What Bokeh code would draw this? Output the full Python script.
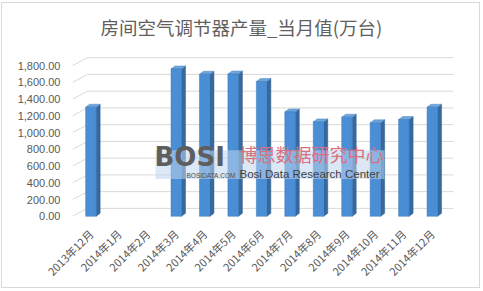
import math
from bokeh.plotting import figure
from bokeh.models import Range1d, FixedTicker, Label, NumeralTickFormatter
from bokeh.embed import file_html
from bokeh.resources import INLINE

# ---- data ----
categories = ["2013年12月", "2014年1月", "2014年2月", "2014年3月", "2014年4月",
              "2014年5月", "2014年6月", "2014年7月", "2014年8月", "2014年9月",
              "2014年10月", "2014年11月", "2014年12月"]
values = [1303, None, None, 1760, 1697, 1700, 1610, 1247, 1128, 1184, 1117, 1156, 1303]
y_ticks = [0, 200, 400, 600, 800, 1000, 1200, 1400, 1600, 1800]
title_text = "房间空气调节器产量_当月值(万台)"

# ---- geometry (pixels, in page coordinates) ----
OX, OY = 2, 3          # canvas origin inside the bordered box
CW, CH = 479, 286      # canvas size
FL, FR, FT, FB = 72, 455, 45, 225
slot_px = 28.45
first_px = 90.4
val_per_px = 1800 / 152.4
y0_px = 215.7

x_start = -(first_px - FL) / slot_px
x_end = x_start + (FR - FL) / slot_px
y_start = -(FB - y0_px) * val_per_px
y_end = (y0_px - FT) * val_per_px

def px2x(px):
    return x_start + (px - FL) / slot_px

def py2y(py):
    return (y0_px - py) * val_per_px

p = figure(width=CW, height=CH, output_backend="svg", toolbar_location=None,
           x_range=Range1d(x_start, x_end), y_range=Range1d(y_start, y_end),
           min_border_left=FL - OX, min_border_right=OX + CW - FR,
           min_border_top=FT - OY, min_border_bottom=OY + CH - FB)
p.styles = {"border": "1px solid #D9D9D9", "margin": "2px 0 0 1px"}
p.outline_line_color = None
p.background_fill_color = "white"
p.border_fill_color = "white"
p.xgrid.visible = False
p.ygrid.visible = False

# title
p.title.text = title_text
p.title.text_font = "Noto Sans CJK SC"
p.title.text_font_size = "18.5px"
p.title.text_font_style = "normal"
p.title.text_color = "#5F5F5F"
p.title.align = "left"
p.title.offset = 100 - FL
p.title.standoff = 16

# y axis
ya = p.yaxis[0]
ya.ticker = FixedTicker(ticks=y_ticks)
ya.formatter = NumeralTickFormatter(format="0,0.00")
ya.axis_line_color = None
ya.major_tick_line_color = None
ya.minor_tick_line_color = None
ya.major_label_text_font = "Liberation Sans"
ya.major_label_text_font_size = "11px"
ya.major_label_text_color = "#595959"
ya.major_label_standoff = 6

# x axis
xa = p.xaxis[0]
xa.ticker = FixedTicker(ticks=list(range(len(categories))))
xa.major_label_overrides = {i: c for i, c in enumerate(categories)}
xa.major_label_orientation = math.pi / 4
xa.axis_line_color = None
xa.major_tick_line_color = None
xa.minor_tick_line_color = None
xa.major_label_text_font = "Noto Sans CJK SC"
xa.major_label_text_font_size = "11px"
xa.major_label_text_color = "#595959"
xa.major_label_standoff = 0

# back-wall gridlines with perspective stub at left
gdx = 15 / slot_px
gdy = 8 * val_per_px
xr_end = px2x(453)
gx, gy = [], []
for v in y_ticks:
    gx.append([x_start, x_start + gdx, xr_end])
    gy.append([v, v + gdy, v + gdy])
p.multi_line(gx, gy, line_color="#D9D9D9", line_width=1)

# 3D bars
bw = 10.5 / slot_px
ddx = 4 / slot_px
ddy = 3 * val_per_px
fx, fv = [], []
side_xs, side_ys, top_xs, top_ys = [], [], [], []
for i, v in enumerate(values):
    if v is None:
        continue
    fx.append(i)
    fv.append(v)
    l, r = i - bw / 2, i + bw / 2
    side_xs.append([r, r + ddx, r + ddx, r])
    side_ys.append([0, ddy, v + ddy, v])
    top_xs.append([l, r, r + ddx, l + ddx])
    top_ys.append([v, v, v + ddy, v + ddy])
p.patches(side_xs, side_ys, fill_color="#35699F", line_color="#2E5C8C", line_width=0.5)
p.patches(top_xs, top_ys, fill_color="#6FA6DC", line_color="#4F86C0", line_width=0.5)
p.vbar(x=fx, top=fv, bottom=0, width=bw, fill_color="#4A8ED6", line_color="#3F78B5", line_width=0.5)

# watermark
p.quad(left=[px2x(155)], right=[px2x(384)], top=[py2y(149)], bottom=[py2y(178)],
       fill_color="#BFD6EE", fill_alpha=0.55, line_color=None)
p.add_layout(Label(x=px2x(154), y=py2y(171), text="BOSI", text_font="DejaVu Sans",
                   text_font_style="bold", text_font_size="26px", text_color="#5E5E5E"))
p.add_layout(Label(x=px2x(186), y=py2y(178), text="BOSIDATA.COM", text_font="Liberation Sans",
                   text_font_size="6.5px", text_color="#505050"))
p.add_layout(Label(x=px2x(239), y=py2y(166), text="博思数据研究中心", text_font="Noto Sans CJK SC",
                   text_font_size="18px", text_color="#D9707F"))
p.add_layout(Label(x=px2x(239), y=py2y(178.5), text="Bosi Data Research Center", text_font="Liberation Sans",
                   text_font_size="11.5px", text_color="#404040"))

open("out.html", "w").write(file_html(p, INLINE))
